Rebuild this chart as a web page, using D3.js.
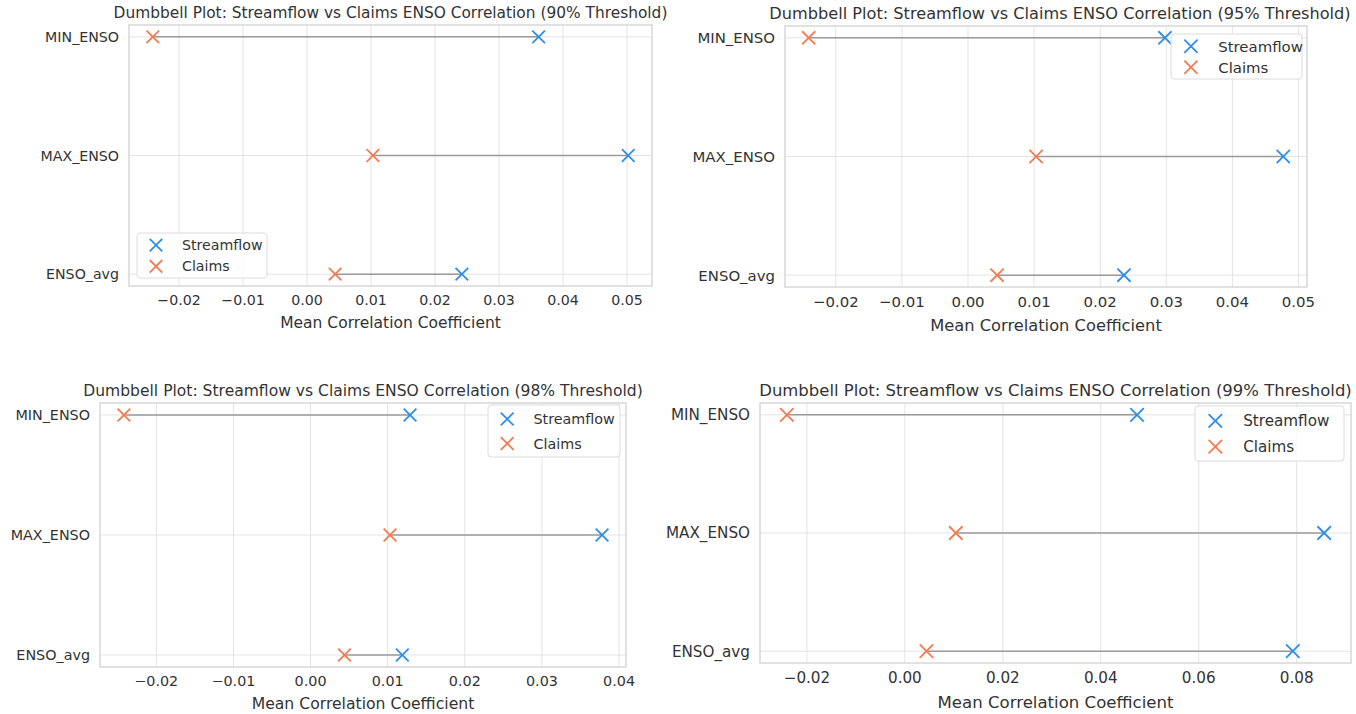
<!DOCTYPE html>
<html>
<head>
<meta charset="utf-8">
<script src="https://cdn.jsdelivr.net/npm/d3@7"></script>
<style>
  body { margin: 0; background: #fff; }
  svg { display: block; font-family: "DejaVu Sans", sans-serif; }
</style>
</head>
<body>
<svg id="chart" width="1356" height="714"></svg>
<script>
var categories = ["MIN_ENSO", "MAX_ENSO", "ENSO_avg"];
var thresholds = ["90%", "95%", "98%", "99%"];

// mean correlation per category, one array per threshold
var streamflow90 = [0.0362, 0.0502, 0.0242];
var claims90     = [-0.0241, 0.0103, 0.0044];
var streamflow95 = [0.0298, 0.0477, 0.0236];
var claims95     = [-0.0241, 0.0103, 0.0044];
var streamflow98 = [0.0129, 0.0378, 0.0119];
var claims98     = [-0.0242, 0.0103, 0.0044];
var streamflow99 = [0.0474, 0.0856, 0.0792];
var claims99     = [-0.0241, 0.0104, 0.0044];

var ticks90 = [-0.02, -0.01, 0.00, 0.01, 0.02, 0.03, 0.04, 0.05];
var ticks95 = [-0.02, -0.01, 0.00, 0.01, 0.02, 0.03, 0.04, 0.05];
var ticks98 = [-0.02, -0.01, 0.00, 0.01, 0.02, 0.03, 0.04];
var ticks99 = [-0.02, 0.00, 0.02, 0.04, 0.06, 0.08];

var streamColor = "#2e8ded";
var claimsColor = "#f47b50";

var svg = d3.select("#chart");

// layout of the four stitched panels (pixel boxes + font scale)
var panels = [
  {stream: streamflow90, claims: claims90, ticks: ticks90, box: [129, 25, 652, 286], fs: 1.0, tdx: 0,
   legend: {x: 137, y: 233, w: 130, h: 45}},
  {stream: streamflow95, claims: claims95, ticks: ticks95, box: [785, 26, 1307, 287], fs: 1.05, tdx: 14,
   legend: {x: 1171, y: 34, w: 131, h: 45}},
  {stream: streamflow98, claims: claims98, ticks: ticks98, box: [100, 403, 626, 667], fs: 1.01, tdx: 0,
   legend: {x: 488, y: 405, w: 132, h: 52}},
  {stream: streamflow99, claims: claims99, ticks: ticks99, box: [760, 403, 1351, 663], fs: 1.07, tdx: 0,
   legend: {x: 1195, y: 406, w: 149, h: 55}}
];

var fmt = function(v) { return d3.format(".2f")(v).replace("-", "\u2212"); };

function xMark(g, x, y, color, r) {
  g.append("path")
    .attr("d", "M" + (x - r) + "," + (y - r) + "L" + (x + r) + "," + (y + r) +
               "M" + (x - r) + "," + (y + r) + "L" + (x + r) + "," + (y - r))
    .attr("stroke", color)
    .attr("stroke-width", 1.8)
    .attr("fill", "none");
}

panels.forEach(function(p, i) {
  var left = p.box[0], top = p.box[1], right = p.box[2], bottom = p.box[3];
  var g = svg.append("g");

  // matplotlib-style autoscale: data extent + 5% margin
  var all = p.stream.concat(p.claims);
  var lo = d3.min(all), hi = d3.max(all), m = (hi - lo) * 0.05;
  var x = d3.scaleLinear().domain([lo - m, hi + m]).range([left, right]);
  var y = d3.scalePoint().domain(categories).range([top, bottom]).padding(0.1);

  // grid
  g.selectAll(".vgrid").data(p.ticks).enter().append("line")
    .attr("x1", d => x(d)).attr("x2", d => x(d))
    .attr("y1", top).attr("y2", bottom)
    .attr("stroke", "#e3e3e3").attr("stroke-width", 1);
  g.selectAll(".hgrid").data(categories).enter().append("line")
    .attr("x1", left).attr("x2", right)
    .attr("y1", d => y(d)).attr("y2", d => y(d))
    .attr("stroke", "#e3e3e3").attr("stroke-width", 1);

  // frame
  g.append("rect")
    .attr("x", left).attr("y", top)
    .attr("width", right - left).attr("height", bottom - top)
    .attr("fill", "none").attr("stroke", "#d2d2d2").attr("stroke-width", 1.3);

  // tick labels
  g.selectAll(".xt").data(p.ticks).enter().append("text")
    .attr("x", d => x(d)).attr("y", bottom + 19 * p.fs)
    .attr("text-anchor", "middle")
    .attr("font-size", 14.2 * p.fs).attr("fill", "#333")
    .text(fmt);
  g.selectAll(".yt").data(categories).enter().append("text")
    .attr("x", left - 10).attr("y", d => y(d))
    .attr("dy", "0.36em")
    .attr("text-anchor", "end")
    .attr("font-size", 14.2 * p.fs).attr("fill", "#333")
    .text(d => d);

  // dumbbell bars
  categories.forEach(function(c, k) {
    g.append("line")
      .attr("x1", x(p.claims[k])).attr("x2", x(p.stream[k]))
      .attr("y1", y(c)).attr("y2", y(c))
      .attr("stroke", "#9a9a9a").attr("stroke-width", 1.5);
  });
  categories.forEach(function(c, k) {
    xMark(g, x(p.stream[k]), y(c), streamColor, 6.3 * p.fs);
    xMark(g, x(p.claims[k]), y(c), claimsColor, 6.3 * p.fs);
  });

  // title and axis label
  g.append("text")
    .attr("x", (left + right) / 2 + p.tdx).attr("y", top - 7)
    .attr("text-anchor", "middle")
    .attr("font-size", 15.4 * p.fs).attr("fill", "#333")
    .text("Dumbbell Plot: Streamflow vs Claims ENSO Correlation (" + thresholds[i] + " Threshold)");
  g.append("text")
    .attr("x", (left + right) / 2).attr("y", bottom + 42 * p.fs)
    .attr("text-anchor", "middle")
    .attr("font-size", 15.5 * p.fs).attr("fill", "#333")
    .text("Mean Correlation Coefficient");

  // legend
  var L = p.legend;
  var lg = g.append("g");
  lg.append("rect")
    .attr("x", L.x).attr("y", L.y).attr("width", L.w).attr("height", L.h)
    .attr("rx", 3).attr("fill", "#fff").attr("fill-opacity", 0.85)
    .attr("stroke", "#dcdcdc");
  [["Streamflow", streamColor], ["Claims", claimsColor]].forEach(function(e, j) {
    var ly = L.y + L.h * (0.27 + j * 0.47);
    xMark(lg, L.x + 19 * p.fs, ly, e[1], 6.3 * p.fs);
    lg.append("text")
      .attr("x", L.x + 45 * p.fs).attr("y", ly).attr("dy", "0.36em")
      .attr("font-size", 14.2 * p.fs).attr("fill", "#333")
      .text(e[0]);
  });
});
</script>
</body>
</html>
